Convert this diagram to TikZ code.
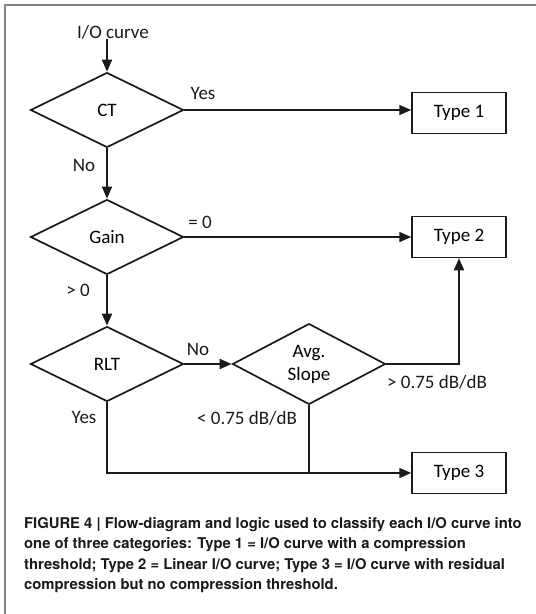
\documentclass[tikz,border=0pt]{standalone}
\usepackage{fontspec}
\setmainfont{Carlito}
\newfontfamily\capfont{TeX Gyre Heros}
\usetikzlibrary{shapes.geometric,arrows.meta}
\definecolor{frame_gray}{HTML}{808080}
\definecolor{ink}{HTML}{1A1A1A}

\tikzset{
  decision/.style={diamond, draw=ink, line width=1.7pt, minimum width=153pt, minimum height=75pt, inner sep=0pt, align=center},
  typebox/.style={rectangle, draw=ink, line width=1.5pt, minimum width=94pt, minimum height=41pt, inner sep=0pt},
  flow/.style={draw=ink, line width=1.7pt, -{Triangle[length=12pt,width=10pt]}},
  plain/.style={draw=ink, line width=1.7pt},
  lbl/.style={inner sep=0pt, text=ink}
}

\begin{document}
\begin{tikzpicture}[x=1pt,y=-1pt, font=\fontsize{19}{23}\selectfont]
        \useasboundingbox (0,0) rectangle (536,614);
        % Cadre
        \draw[frame_gray, line width=1.5pt] (5,620) -- (5,5) -- (540,5);
        % Entree
        \node[lbl] (io) at (113,32) {I/O curve};
        % Losanges
        \node[decision] (ct) at (107,110) {CT};
        \node[decision] (gain) at (107,237) {Gain};
        \node[decision] (rlt) at (107,364) {RLT};
        \node[decision] (avg) at (309,364) {Avg.\\Slope};
        % Types
        \node[typebox] (t1) at (459,113) {Type 1};
        \node[typebox] (t2) at (459,237) {Type 2};
        \node[typebox] (t3) at (459,473) {Type 3};
        % Fleches
        \draw[flow] (io.south -| ct.north) -- (ct.north);
        \draw[flow] (ct.east) -- (ct.east -| t1.west);
        \draw[flow] (ct.south) -- (gain.north);
        \draw[flow] (gain.east) -- (t2.west);
        \draw[flow] (gain.south) -- (rlt.north);
        \draw[flow] (rlt.east) -- (avg.west);
        \draw[flow] (avg.east) -| (t2.south);
        \draw[flow] (rlt.south) |- (t3.west);
        \draw[plain] (avg.south) -- (avg.south |- t3.west);
        % Etiquettes
        \node[lbl] (yes1) at (203,93) {Yes};
        \node[lbl] (no1) at (84,165) {No};
        \node[lbl] (eq0) at (200,222) {= 0};
        \node[lbl] (gt0) at (78,290) {> 0};
        \node[lbl] (no2) at (198,349) {No};
        \node[lbl] (gtslope) at (437,382) {> 0.75 dB/dB};
        \node[lbl] (yes2) at (84,417) {Yes};
        \node[lbl] (ltslope) at (247,418) {< 0.75 dB/dB};
        % Legende
        \node[anchor=north west, inner sep=0pt, align=left, text=ink,
              font=\capfont\bfseries\fontsize{14.8}{20.5}\selectfont] (caption) at (24,517)
          {FIGURE 4 | Flow-diagram and logic used to classify each I/O curve into\\
           one of three categories: Type 1 = I/O curve with a compression\\
           threshold; Type 2 = Linear I/O curve; Type 3 = I/O curve with residual\\
           compression but no compression threshold.};
\end{tikzpicture}
\end{document}
